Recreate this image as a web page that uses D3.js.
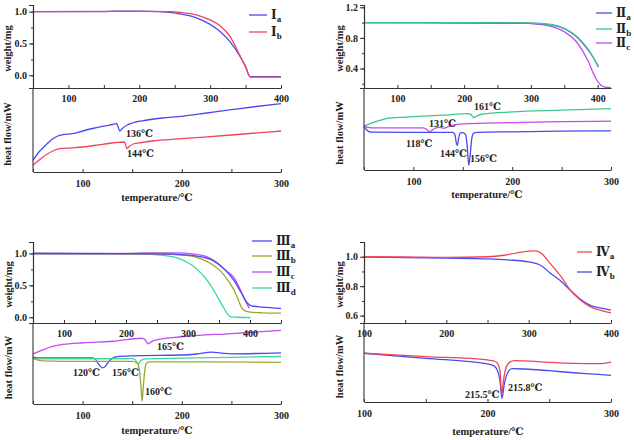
<!DOCTYPE html>
<html><head><meta charset="utf-8">
<script src="https://cdn.jsdelivr.net/npm/d3@7/dist/d3.min.js"></script>
<style>
html,body{margin:0;padding:0;background:#fff;}
svg text{font-family:"Liberation Serif","DejaVu Serif",serif;font-weight:bold;fill:#222;}
</style></head>
<body><svg id="c" width="634" height="440"></svg>
<script>
// ---------- DATA (temperature °C, value) ----------
// Panel I – TGA (weight/mg)
const tgaIa = [[50,1.0],[150,1.0],[165,1.01],[200,1.01],[230,1.0],[243,0.99],[260,0.96],[272,0.935],[286,0.88],[300,0.8],[314,0.69],[328,0.53],[342,0.3],[350,0.14],[356,-0.02],[400,-0.02]];
const tgaIb = [[50,1.0],[200,1.005],[243,1.0],[258,0.99],[272,0.97],[286,0.93],[300,0.87],[314,0.78],[328,0.61],[342,0.31],[350,0.13],[357,-0.03],[400,-0.03]];
// Panel I – DSC (heat flow, arbitrary mW)
const dscIa = [[50,1.17],[53,1.6],[56,2.0],[60,2.4],[65,2.9],[70,3.33],[75,3.6],[80,3.73],[90,3.83],[100,4.1],[110,4.35],[120,4.57],[130,4.75],[134.5,4.83],[135.5,4.6],[137.5,4.1],[140,4.35],[145,4.7],[150,4.9],[160,5.12],[180,5.4],[200,5.57],[225,5.9],[250,6.23],[275,6.55],[300,6.83]];
const dscIb = [[50,0.67],[55,1.1],[60,1.5],[65,1.83],[70,2.1],[77,2.33],[90,2.42],[100,2.5],[120,2.77],[142,3.0],[143,2.85],[144.5,2.33],[147,2.55],[151,2.8],[160,2.95],[170,3.1],[200,3.33],[250,3.7],[300,4.1]];

// Panel II
const tgaIIa = [[50,1.0],[250,0.995],[300,0.99],[330,0.97],[350,0.92],[360,0.87],[370,0.8],[385,0.65],[393,0.55],[401,0.42]];
const tgaIIb = [[50,1.0],[300,0.995],[330,0.975],[350,0.925],[370,0.81],[385,0.66],[401,0.43]];
const tgaIIc = [[50,1.0],[280,0.995],[310,0.98],[330,0.95],[350,0.88],[370,0.73],[385,0.51],[395,0.31],[400,0.23],[405,0.18],[412,0.155],[420,0.15]];
const dscIIa = [[50,4.33],[52,4.1],[55,3.85],[58,3.8],[100,3.78],[140,3.78],[142,3.55],[143.5,2.7],[144.5,2.45],[146,3.3],[147.5,3.72],[150,3.75],[153,3.5],[154.5,2.3],[156,0.5],[157.5,1.5],[159,3.1],[161,3.7],[165,3.78],[200,3.83],[250,3.9],[300,3.93]];
const dscIIb = [[50,4.4],[55,4.6],[65,4.95],[75,5.2],[100,5.35],[130,5.5],[155,5.65],[158,5.58],[161,5.27],[164,5.42],[170,5.62],[200,5.83],[250,6.0],[300,6.17]];
const dscIIc = [[50,4.4],[53,4.3],[58,4.23],[110,4.23],[113,4.1],[116.5,3.85],[119,4.0],[122,4.2],[127,4.27],[131,4.2],[134,4.3],[140,4.5],[150,4.62],[200,4.75],[250,4.85],[300,4.9]];

// Panel III
const tgaIIIa = [[50,1.0],[250,0.995],[300,0.975],[320,0.95],[342,0.88],[358,0.76],[374,0.58],[385,0.4],[396,0.22],[402,0.18],[420,0.16],[450,0.14]];
const tgaIIIb = [[50,1.0],[250,0.99],[290,0.975],[310,0.95],[320,0.92],[335,0.85],[353,0.72],[365,0.57],[374,0.43],[380,0.3],[386,0.16],[392,0.1],[400,0.08],[420,0.07],[450,0.065]];
const tgaIIIc = [[50,1.0],[200,1.0],[230,1.01],[280,1.01],[310,0.99],[330,0.95],[345,0.87],[360,0.74],[374,0.62],[385,0.42],[393,0.25],[399,0.14]];
const tgaIIId = [[50,1.0],[200,0.995],[240,0.985],[260,0.97],[277,0.945],[295,0.88],[309,0.8],[320,0.7],[331,0.58],[340,0.45],[347,0.33],[355,0.19],[363,0.06],[369,0.005],[380,0.0],[401,-0.005]];
const dscIIIa = [[50,4.67],[55,4.6],[110,4.6],[113,4.45],[116,4.0],[120,3.6],[123,3.75],[126,4.2],[130,4.55],[135,4.72],[150,4.8],[200,4.88],[215,4.98],[230,5.17],[240,5.07],[250,5.0],[300,5.1]];
const dscIIIb = [[50,4.57],[55,4.38],[60,4.3],[100,4.25],[150,4.25],[155,4.1],[157.5,3.2],[159,1.5],[160,0.3],[161,1.5],[162.5,3.2],[164,4.0],[167,4.2],[200,4.2],[300,4.15]];
const dscIIIc = [[50,5.0],[55,5.2],[60,5.4],[70,5.73],[80,5.93],[100,6.1],[130,6.25],[160,6.55],[163,6.4],[166,6.0],[169,6.2],[175,6.4],[200,6.7],[250,7.02],[300,7.33]];
const dscIIId = [[50,4.5],[60,4.5],[150,4.52],[153,4.4],[156,4.0],[158.5,4.3],[162,4.5],[200,4.57],[250,4.65],[300,4.73]];

// Panel IV
const tgaIVa = [[100,1.0],[150,0.998],[200,0.995],[250,1.0],[270,1.01],[285,1.025],[300,1.038],[308,1.04],[315,1.025],[326,0.955],[340,0.86],[351,0.77],[362,0.71],[375,0.66],[390,0.632],[400,0.618]];
const tgaIVb = [[100,0.997],[200,0.99],[250,0.985],[275,0.978],[300,0.965],[315,0.94],[326,0.89],[340,0.83],[351,0.77],[362,0.715],[375,0.67],[390,0.65],[400,0.638]];
const dscIVa = [[100,4.83],[150,4.5],[200,4.17],[205,4.07],[208,3.85],[210,3.2],[211.5,0.8],[213,2.2],[215,3.4],[218,3.95],[222,4.1],[230,4.07],[250,3.93],[270,3.83],[290,3.8],[300,3.95]];
const dscIVb = [[100,4.83],[150,4.33],[200,3.77],[205,3.6],[208,3.15],[210,2.2],[211.7,0.35],[213.5,1.7],[216,2.8],[220,3.3],[230,3.27],[250,3.1],[270,2.9],[290,2.73],[300,2.63]];

// tick labels
const tgaYTicksI = [0.0,0.5,1.0], tgaYTicksII = [0.4,0.8,1.2], tgaYTicksIII = [0.0,0.5,1.0], tgaYTicksIV = [0.6,0.8,1.0];
const tempTicks = [100,200,300,400], dscTempTicks = [100,200,300];

// annotations [text, temperature, value]
const annI = [["136℃",143.7,3.5],["144℃",144.8,1.5]];
const annII = [["161℃",161.3,6.0],["131℃",115.8,4.3],["118℃",92.5,2.3],["144℃",126.9,1.3],["156℃",157.3,0.8]];
const annIII = [["165℃",175,5.4],["120℃",90.3,2.8],["156℃",129.6,2.8],["160℃",162.9,0.9]];
const annIV = [["215.5℃",181.8,0.4],["215.8℃",216.6,1.1]];

// ---------- DRAW ----------
const C = {blue:"#4a4af0", red:"#f04458", green:"#3cc88a", mag:"#c24cf0", olive:"#9aa82a", teal:"#3ed6a2"};
const svg = d3.select("#c");
const FS = 10;

function panel(p){
  const g = svg.append("g");
  const xT = d3.scaleLinear().domain(p.tgaX).range([p.left,p.right]);
  const yT = d3.scaleLinear().domain(p.tgaY).range([p.mid,p.top]);
  const xD = d3.scaleLinear().domain(p.dscX).range([p.left,p.right]);
  const yD = d3.scaleLinear().domain(p.dscY).range([p.bottom,p.mid]);

  const lineT = d3.line().x(d=>xT(d[0])).y(d=>yT(d[1])).curve(d3.curveMonotoneX);
  const lineD = d3.line().x(d=>xD(d[0])).y(d=>yD(d[1])).curve(d3.curveMonotoneX);

  p.tga.forEach(s=>g.append("path").attr("d",lineT(s.data)).attr("fill","none").attr("stroke",s.color).attr("stroke-width",1.3));
  p.dsc.forEach(s=>g.append("path").attr("d",lineD(s.data)).attr("fill","none").attr("stroke",s.color).attr("stroke-width",1.3));

  const style = sel=>{sel.selectAll("path.domain").attr("stroke","#333").attr("stroke-width",1.1);
    sel.selectAll(".tick line").attr("stroke","#333");
    sel.selectAll("text").attr("font-size",FS).attr("fill","#222").attr("font-family",null);};

  // y axis TGA
  const yMinor = [];
  for(let v=Math.ceil(p.tgaY[0]/p.yMinorStep)*p.yMinorStep; v<=p.tgaY[1]+1e-9; v+=p.yMinorStep) yMinor.push(+v.toFixed(3));
  g.append("g").attr("transform",`translate(${p.left},0)`).call(d3.axisLeft(yT).tickValues(yMinor).tickSize(2).tickFormat("")).call(style);
  g.append("g").attr("transform",`translate(${p.left},0)`).call(d3.axisLeft(yT).tickValues(p.yTicks).tickSize(4).tickPadding(2).tickFormat(d3.format(".1f"))).call(style);
  // y axis DSC (no ticks)
  g.append("line").attr("x1",p.left).attr("x2",p.left).attr("y1",p.mid).attr("y2",p.bottom).attr("stroke","#333").attr("stroke-width",1.1);

  // x axis TGA on divider
  const tMinor = d3.range(Math.ceil(p.tgaX[0]/50)*50, p.tgaX[1]+1, 50);
  g.append("g").attr("transform",`translate(0,${p.mid})`).call(d3.axisBottom(xT).tickValues(tMinor).tickSizeInner(-3).tickSizeOuter(0).tickFormat("")).call(style);
  g.append("g").attr("transform",`translate(0,${p.mid})`).call(d3.axisBottom(xT).tickValues(tempTicks).tickSize(0).tickPadding(7).tickFormat(d3.format("d"))).call(style).select("path.domain").remove();
  // x axis DSC
  const dMinor = d3.range(Math.ceil(p.dscX[0]/50)*50, p.dscX[1]+1, 50);
  g.append("g").attr("transform",`translate(0,${p.bottom})`).call(d3.axisBottom(xD).tickValues(dMinor).tickSizeInner(-3).tickSizeOuter(0).tickFormat("")).call(style);
  g.append("g").attr("transform",`translate(0,${p.bottom})`).call(d3.axisBottom(xD).tickValues(dscTempTicks).tickSize(0).tickPadding(8).tickFormat(d3.format("d"))).call(style).select("path.domain").remove();

  // titles
  g.append("text").attr("transform",`translate(${p.ytx},${(p.top+p.mid)/2+2}) rotate(-90)`).attr("text-anchor","middle").attr("font-size",10.5).text("weight/mg");
  g.append("text").attr("transform",`translate(${p.ytx},${(p.mid+p.bottom)/2+4}) rotate(-90)`).attr("text-anchor","middle").attr("font-size",10.5).text("heat flow/mW");
  g.append("text").attr("x",p.xtx).attr("y",p.xty).attr("text-anchor","middle").attr("font-size",10.5).text("temperature/℃");

  // annotations
  p.ann.forEach(a=>g.append("text").attr("x",xD(a[1])).attr("y",yD(a[2])).attr("font-size",FS).text(a[0]));

  // legend
  p.legend.forEach((l,i)=>{
    const y = p.legY[i];
    g.append("line").attr("x1",p.legX).attr("x2",p.legX+p.legW).attr("y1",y).attr("y2",y).attr("stroke",l.color).attr("stroke-width",1.3);
    const t = g.append("text").attr("x",p.legX+p.legW+4).attr("y",y+4).attr("font-size",12);
    t.append("tspan").text(l.num);
    t.append("tspan").attr("dy",3).attr("font-size",9).text(l.sub);
  });
}

panel({left:33,right:281,top:5,mid:88,bottom:172,
  tgaX:[50,400],tgaY:[-0.2,1.105],dscX:[50,300],dscY:[0,8.4],
  yTicks:tgaYTicksI,yMinorStep:0.25,
  tga:[{data:tgaIa,color:C.blue},{data:tgaIb,color:C.red}],
  dsc:[{data:dscIa,color:C.blue},{data:dscIb,color:C.red}],
  ytx:11,xtx:157,xty:201,ann:annI,
  legX:249,legW:18,legY:[15,32],
  legend:[{num:"Ⅰ",sub:"a",color:C.blue},{num:"Ⅰ",sub:"b",color:C.red}]});

panel({left:364,right:611,top:5,mid:88,bottom:170,
  tgaX:[50,420],tgaY:[0.145,1.23],dscX:[50,300],dscY:[0,8.23],
  yTicks:tgaYTicksII,yMinorStep:0.2,
  tga:[{data:tgaIIc,color:C.mag},{data:tgaIIa,color:C.blue},{data:tgaIIb,color:C.green}],
  dsc:[{data:dscIIa,color:C.blue},{data:dscIIb,color:C.green},{data:dscIIc,color:C.mag}],
  ytx:343,xtx:487,xty:198,ann:annII,
  legX:596,legW:16,legY:[13,29,43],
  legend:[{num:"Ⅱ",sub:"a",color:C.blue},{num:"Ⅱ",sub:"b",color:C.green},{num:"Ⅱ",sub:"c",color:C.mag}]});

panel({left:33,right:281,top:242,mid:323,bottom:404,
  tgaX:[50,450],tgaY:[-0.09,1.18],dscX:[50,300],dscY:[0,8.07],
  yTicks:tgaYTicksIII,yMinorStep:0.25,
  tga:[{data:tgaIIId,color:C.teal},{data:tgaIIIb,color:C.olive},{data:tgaIIIc,color:C.mag},{data:tgaIIIa,color:C.blue}],
  dsc:[{data:dscIIIc,color:C.mag},{data:dscIIIa,color:C.blue},{data:dscIIId,color:C.teal},{data:dscIIIb,color:C.olive}],
  ytx:12,xtx:157,xty:434,ann:annIII,
  legX:252,legW:20,legY:[241,256,272,288],
  legend:[{num:"Ⅲ",sub:"a",color:C.blue},{num:"Ⅲ",sub:"b",color:C.olive},{num:"Ⅲ",sub:"c",color:C.mag},{num:"Ⅲ",sub:"d",color:C.teal}]});

panel({left:364,right:611,top:242,mid:323,bottom:402,
  tgaX:[100,400],tgaY:[0.55,1.1],dscX:[100,300],dscY:[0,7.83],
  yTicks:tgaYTicksIV,yMinorStep:0.1,
  tga:[{data:tgaIVb,color:C.blue},{data:tgaIVa,color:C.red}],
  dsc:[{data:dscIVb,color:C.blue},{data:dscIVa,color:C.red}],
  ytx:343,xtx:488,xty:435,ann:annIV,
  legX:577,legW:15,legY:[252,272],
  legend:[{num:"Ⅳ",sub:"a",color:C.red},{num:"Ⅳ",sub:"b",color:C.blue}]});
</script></body></html>
